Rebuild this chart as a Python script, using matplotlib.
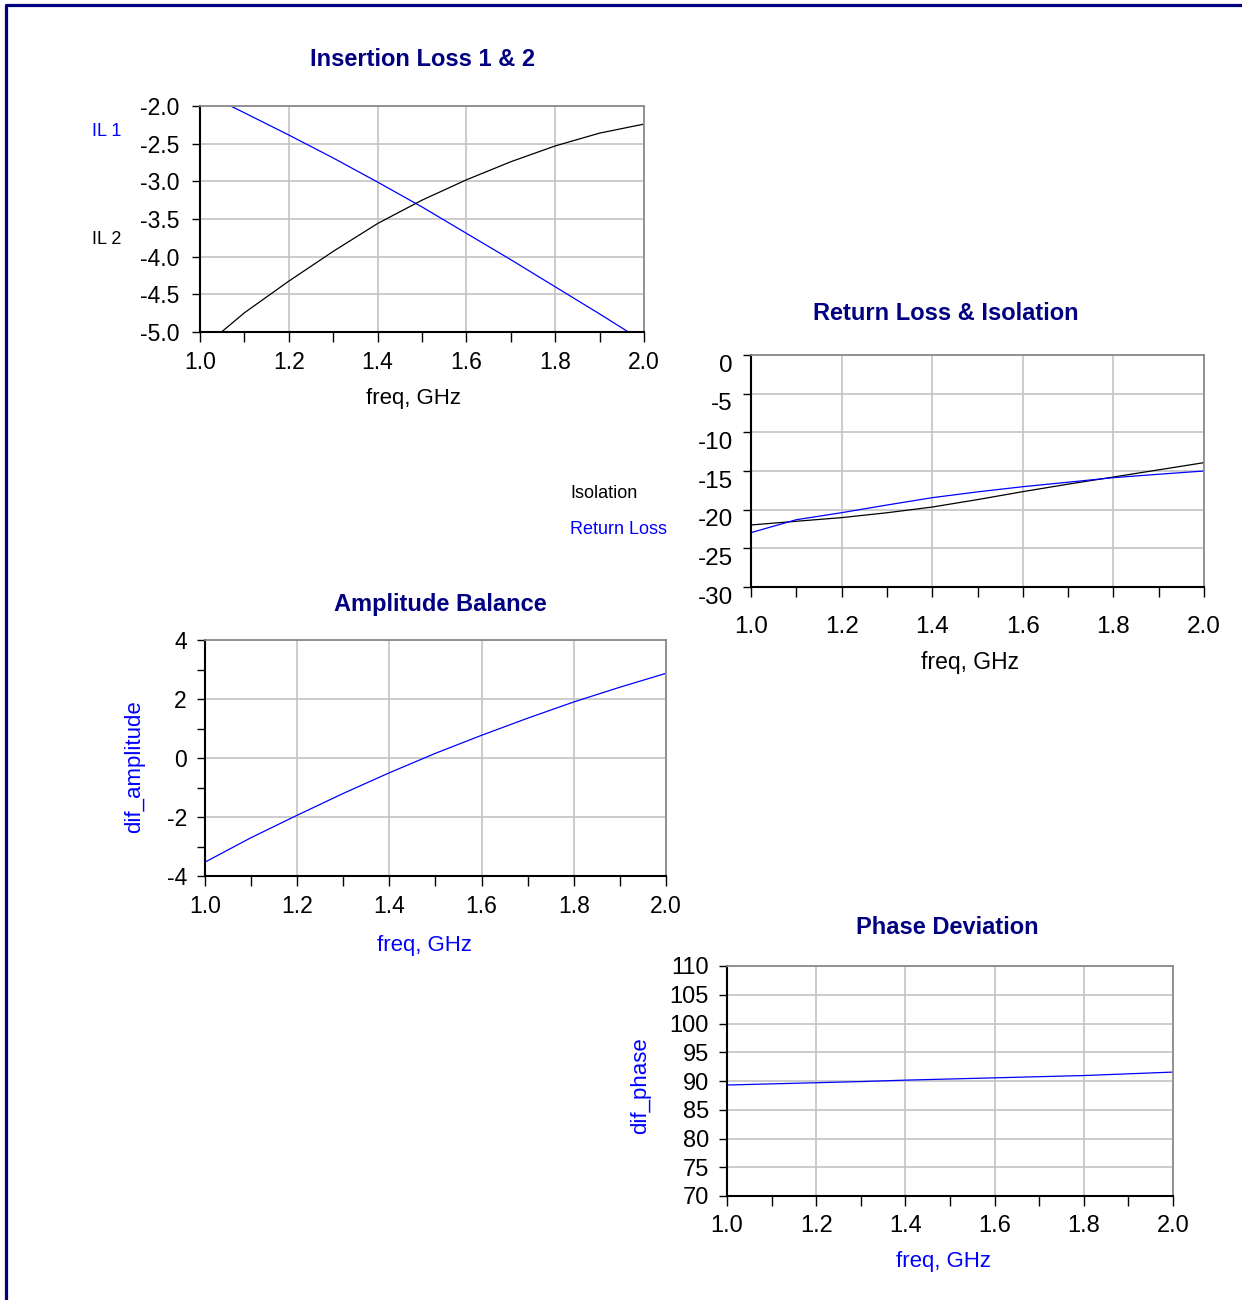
import numpy as np
import matplotlib
matplotlib.use('Agg')
import matplotlib.pyplot as plt
from matplotlib.ticker import MultipleLocator, FormatStrFormatter
from matplotlib.transforms import ScaledTranslation

plt.rcParams['font.family'] = ['Liberation Sans', 'DejaVu Sans']
plt.rcParams['axes.unicode_minus'] = False

# frequency points, GHz
freq = [1.0, 1.1, 1.2, 1.3, 1.4, 1.5, 1.6, 1.7, 1.8, 1.9, 2.0]

# insertion loss, dB
il1 = [-1.80, -2.09, -2.385, -2.69, -3.01, -3.34, -3.69, -4.04, -4.40, -4.76, -5.13]
il2 = [-5.24, -4.745, -4.325, -3.93, -3.56, -3.25, -2.98, -2.74, -2.53, -2.36, -2.24]

# return loss / isolation, dB
isolation = [-21.98, -21.5, -21.03, -20.4, -19.66, -18.7, -17.67, -16.7, -15.78, -14.85, -13.92]
return_loss = [-22.97, -21.3, -20.39, -19.4, -18.45, -17.7, -17.03, -16.45, -15.86, -15.42, -15.0]

# amplitude balance, dB
dif_amplitude = [-3.53, -2.70, -1.94, -1.20, -0.50, 0.16, 0.77, 1.35, 1.90, 2.40, 2.87]

# phase deviation, deg
dif_phase = [89.3, 89.5, 89.7, 89.9, 90.15, 90.35, 90.55, 90.75, 90.95, 91.25, 91.55]

W, H = 1242, 1300
NAVY = '#000080'
BLUE = '#0000ff'

fig = plt.figure(figsize=(W / 100, H / 100), dpi=100)


def px(x, y):
    return x / W, 1 - y / H


def make_axes(left, top, right, bottom):
    ax = fig.add_axes([left / W, 1 - bottom / H, (right - left) / W, (bottom - top) / H])
    ax.set_xlim(1.0, 2.0)
    ax.xaxis.set_major_locator(MultipleLocator(0.2))
    ax.xaxis.set_minor_locator(MultipleLocator(0.1))
    ax.xaxis.set_major_formatter(FormatStrFormatter('%.1f'))
    ax.grid(True, which='major', color='#c4c4c4', lw=1.2)
    ax.set_axisbelow(True)
    for s in ['left', 'bottom']:
        ax.spines[s].set_color('black')
        ax.spines[s].set_linewidth(1.5)
    for s in ['top', 'right']:
        ax.spines[s].set_color('#8a8a8a')
        ax.spines[s].set_linewidth(1.3)
    ax.tick_params(axis='both', which='both', direction='out', labelsize=16.5,
                   top=False, right=False, width=1.0, color='black')
    ax.tick_params(axis='x', which='major', length=7, pad=7)
    ax.tick_params(axis='x', which='minor', length=7)
    ax.tick_params(axis='y', which='both', length=6, pad=7)
    return ax


# Insertion Loss 1 & 2
ax1 = make_axes(200, 106, 644, 332)
ax1.plot(freq, il1, color=BLUE, lw=0.9)
ax1.plot(freq, il2, color='black', lw=0.9)
ax1.set_ylim(-5.0, -2.0)
ax1.yaxis.set_major_locator(MultipleLocator(0.5))
ax1.yaxis.set_major_formatter(FormatStrFormatter('%.1f'))
ax1.tick_params(axis='y', pad=9)
ax1.set_xlabel('freq, GHz', fontsize=16, color='black')
ax1.xaxis.set_label_coords((413 - 200) / 444, -(399 - 332) / 226)
ax1.xaxis.label.set_va('center')

# Return Loss & Isolation
ax2 = make_axes(751, 355, 1204, 587)
ax2.plot(freq, isolation, color='black', lw=0.9)
ax2.plot(freq, return_loss, color=BLUE, lw=0.9)
ax2.set_ylim(-30, 0)
ax2.yaxis.set_major_locator(MultipleLocator(5))
ax2.yaxis.set_major_formatter(FormatStrFormatter('%d'))
ax2.tick_params(axis='x', which='major', pad=14)
ax2.tick_params(axis='both', labelsize=17.5)
ax2.set_xlabel('freq, GHz', fontsize=16.5, color='black')
ax2.xaxis.set_label_coords((970 - 751) / 453, -(663 - 587) / 232)
ax2.xaxis.label.set_va('center')
shift = ScaledTranslation(0, -8 / 100, fig.dpi_scale_trans)
for lab in ax2.get_yticklabels():
    lab.set_transform(lab.get_transform() + shift)

# Amplitude Balance
ax3 = make_axes(205, 640, 666, 876)
ax3.plot(freq, dif_amplitude, color=BLUE, lw=0.9)
ax3.set_ylim(-4, 4)
ax3.yaxis.set_major_locator(MultipleLocator(2))
ax3.yaxis.set_minor_locator(MultipleLocator(1))
ax3.yaxis.set_major_formatter(FormatStrFormatter('%d'))
ax3.set_xlabel('freq, GHz', fontsize=16, color=BLUE)
ax3.xaxis.set_label_coords((425 - 205) / 461, -(945 - 876) / 236)
ax3.xaxis.label.set_va('center')
ax3.set_ylabel('dif_amplitude', fontsize=16, color=BLUE)
ax3.yaxis.set_label_coords((135 - 205) / 461, (876 - 767) / 236)
ax3.yaxis.label.set_va('center')

# Phase Deviation
ax4 = make_axes(727, 966, 1173, 1196)
ax4.plot(freq, dif_phase, color=BLUE, lw=0.9)
ax4.set_ylim(70, 110)
ax4.yaxis.set_major_locator(MultipleLocator(5))
ax4.yaxis.set_major_formatter(FormatStrFormatter('%d'))
ax4.tick_params(axis='both', labelsize=17)
ax4.set_xlabel('freq, GHz', fontsize=16, color=BLUE)
ax4.xaxis.set_label_coords((943 - 727) / 446, -(1262 - 1196) / 230)
ax4.xaxis.label.set_va('center')
ax4.set_ylabel('dif_phase', fontsize=16, color=BLUE)
ax4.yaxis.set_label_coords((641 - 727) / 446, (1196 - 1086) / 230)
ax4.yaxis.label.set_va('center')

# titles
titles = [('Insertion Loss 1 & 2', 423, 60),
          ('Return Loss & Isolation', 946, 313),
          ('Amplitude Balance', 440, 604),
          ('Phase Deviation', 947, 927)]
for txt, x, y in titles:
    fig.text(*px(x, y), txt, fontsize=17, fontweight='bold', color=NAVY,
             ha='center', va='center')

# trace names
fig.text(*px(92, 131), 'IL 1', fontsize=13, color=BLUE, ha='left', va='center')
fig.text(*px(92, 240), 'IL 2', fontsize=13, color='black', ha='left', va='center')
fig.text(*px(570, 493), 'Isolation', fontsize=13, color='black', ha='left', va='center')
fig.text(*px(570, 529), 'Return Loss', fontsize=13, color=BLUE, ha='left', va='center')

# page frame (left and top edges)
x0, y0 = px(5.5, 4.5)
fig.add_artist(plt.Line2D([x0, x0, 1.01], [-0.01, y0, y0], transform=fig.transFigure,
                          color=NAVY, lw=2.3, solid_capstyle='butt'))

fig.savefig('out.png', dpi=100, facecolor='white')
